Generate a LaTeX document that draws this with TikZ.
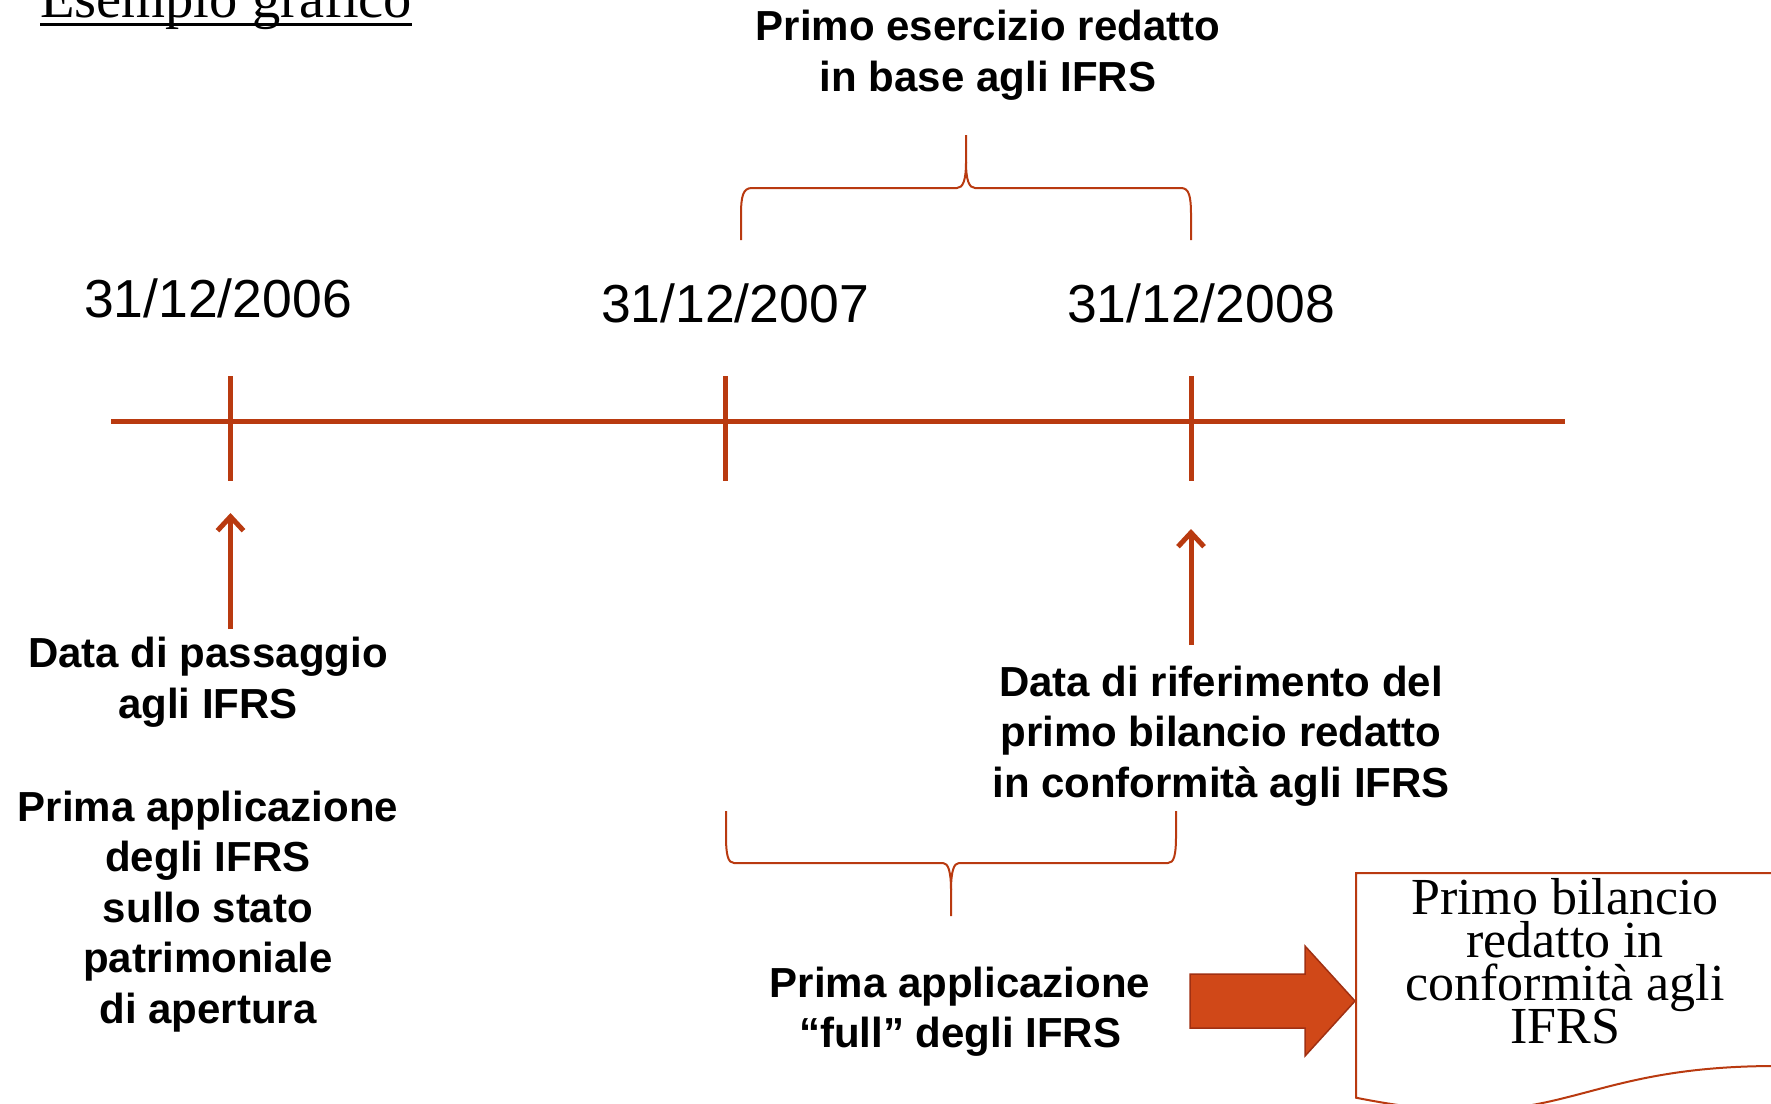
\documentclass[tikz,border=0pt]{standalone}
\usepackage{fontspec}
\setmainfont{Liberation Sans}
\newfontfamily\serifx{Liberation Serif}
\usetikzlibrary{arrows.meta,calc}
\definecolor{rust}{RGB}{185,58,16}
\definecolor{arrowfill}{RGB}{208,72,24}
\definecolor{arrowedge}{RGB}{160,48,18}
\newcommand{\stacklines}[2]{\vtop{\baselineskip=#1\lineskiplimit=-1000pt\lineskip=0pt\halign{\hfil##\hfil\cr #2\crcr}}}
\begin{document}
\begin{tikzpicture}[x=1pt,y=-1pt,
  axisline/.style={rust,line width=5pt},
  tickmark/.style={rust,line width=5pt},
  bracepath/.style={rust,line width=2pt},
  uparrow/.style={rust,line width=5pt,-{Straight Barb[length=14pt,width=26pt]}},
  datelabel/.style={anchor=base,inner sep=0pt,font=\fontsize{53.5}{62}\selectfont},
  boldlabel/.style={anchor=base,inner sep=0pt,font=\fontsize{42}{51}\selectfont\bfseries},
  bigarrow/.style={fill=arrowfill,draw=arrowedge,line width=1.5pt,line join=miter},
  docshape/.style={draw=rust,fill=white,line width=2pt},
]
\useasboundingbox (0,0) rectangle (1771,1103);

% title
\node[anchor=base west,inner sep=0pt,font=\serifx\fontsize{56.5}{60}\selectfont] (title) at (40,17) {Esempio grafico};
\draw[line width=3pt] ($(title.base west)+(0,7.7)$) -- ($(title.base east)+(0,7.7)$);

% timeline
\coordinate (axL) at (111,421);
\coordinate (axR) at (1565,421);
\draw[axisline] (axL) -- (axR);
\coordinate (t1top) at (230.5,376); \coordinate (t1bot) at (230.5,481);
\coordinate (t2top) at (725,376);   \coordinate (t2bot) at (725,481);
\coordinate (t3top) at (1191,376);  \coordinate (t3bot) at (1191,481);
\draw[tickmark] (t1top) -- (t1bot);
\draw[tickmark] (t2top) -- (t2bot);
\draw[tickmark] (t3top) -- (t3bot);

% dates
\node[datelabel] (d1) at (218,317) {31/12/2006};
\node[datelabel] (d2) at (735,322) {31/12/2007};
\node[datelabel] (d3) at (1201,322) {31/12/2008};

% top brace and label
\node[boldlabel] (toplbl) at (988,40) {\stacklines{51pt}{Primo esercizio redatto\cr in base agli IFRS}};
\draw[bracepath] (741,240) -- (741,215) .. controls (741,196) and (743,188) .. (752,188)
  -- (957,188) .. controls (963,188) and (966,180) .. (966,162) -- (966,135);
\draw[bracepath] (966,162) .. controls (966,180) and (969,188) .. (975,188)
  -- (1181,188) .. controls (1189,188) and (1191,196) .. (1191,215) -- (1191,240);

% bottom brace and label
\draw[bracepath] (726,811) -- (726,836) .. controls (726,855) and (728,863) .. (734,863)
  -- (943,863) .. controls (948,863) and (951,871) .. (951,890) -- (951,916);
\draw[bracepath] (951,890) .. controls (951,871) and (954,863) .. (959,863)
  -- (1168,863) .. controls (1174,863) and (1176,855) .. (1176,836) -- (1176,811);
\node[boldlabel] (botlbl) at (960,997) {\stacklines{50.5pt}{Prima applicazione\cr “full” degli IFRS}};

% left labels and arrow
\node[boldlabel] (lblA) at (208,667) {\stacklines{51pt}{Data di passaggio\cr agli IFRS}};
\node[boldlabel] (lblB) at (208,821) {\stacklines{50.5pt}{Prima applicazione\cr degli IFRS\cr sullo stato\cr patrimoniale\cr di apertura}};
\coordinate (a1s) at (230.5,629);
\coordinate (a1e) at (230.5,513);
\draw[uparrow] (a1s) -- (a1e);

% right label and arrow
\node[boldlabel] (lblC) at (1221,696) {\stacklines{50.5pt}{Data di riferimento del\cr primo bilancio redatto\cr in conformità agli IFRS}};
\coordinate (a2s) at (1191,645);
\coordinate (a2e) at (1191,529);
\draw[uparrow] (a2s) -- (a2e);

% big block arrow
\draw[bigarrow] (1190,974) -- (1305,974) -- (1305,946) -- (1355,1001) -- (1305,1056)
  -- (1305,1028) -- (1190,1028) -- cycle;

% document shape
\draw[docshape] (1356,873) -- (1776,873) -- (1776,1066)
  .. controls (1566,1066) and (1566,1139.6) .. (1356,1097.7) -- cycle;
\node[anchor=base,inner sep=0pt,font=\serifx\fontsize{52}{43}\selectfont] (doctext) at (1565,914)
  {\stacklines{43pt}{Primo bilancio\cr redatto in\cr conformità agli\cr IFRS}};
\end{tikzpicture}
\end{document}
